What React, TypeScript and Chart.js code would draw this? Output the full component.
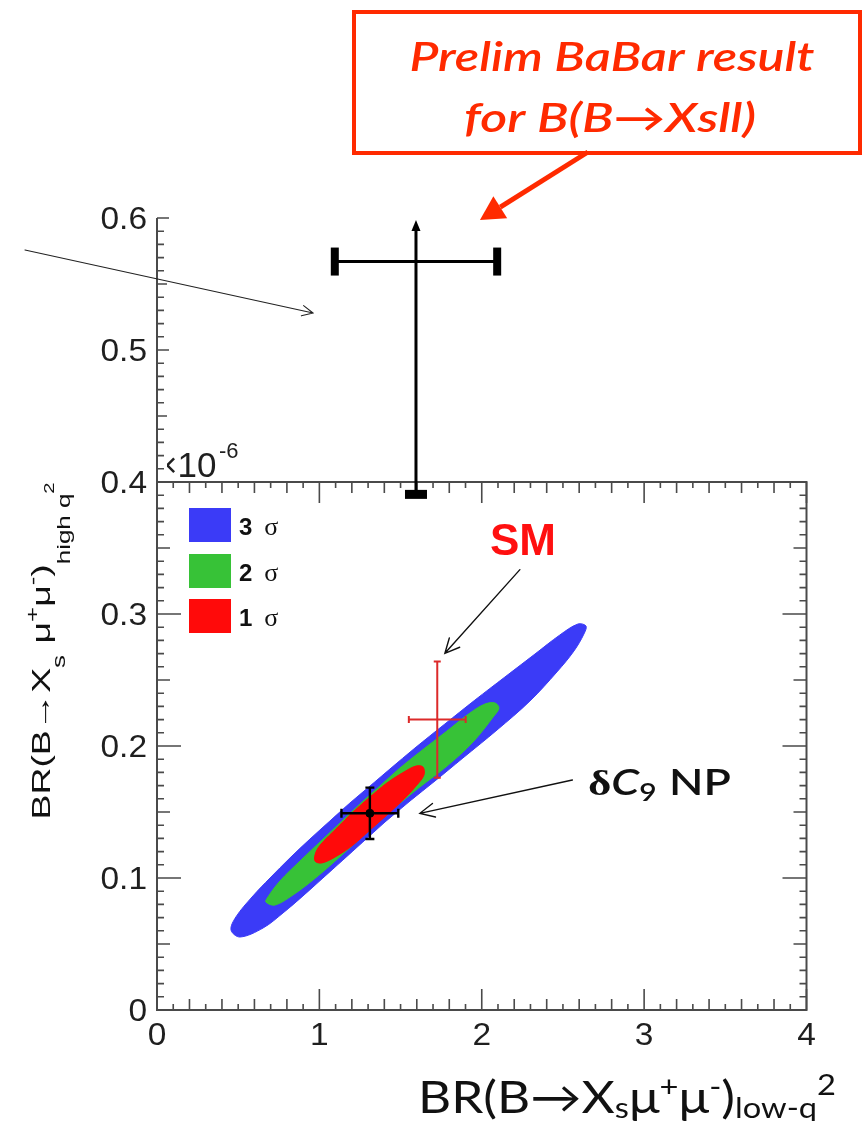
import React, { useEffect, useRef } from 'react';
import { Chart, registerables } from 'chart.js';

Chart.register(...registerables);

// Axis ticks (BR in units of 10^-6)
const X_TICKS = [0, 1, 2, 3, 4];
const X_TICK_LABELS = ['0', '1', '2', '3', '4'];
const Y_TICKS = [0, 0.1, 0.2, 0.3, 0.4, 0.5, 0.6];
const Y_TICK_LABELS = ['0', '0.1', '0.2', '0.3', '0.4', '0.5', '0.6'];
const FRAME_TOP = 0.4;

// Confidence-region outlines: BR low-q² (x) vs BR high-q² (y)
const SIGMA3_X = [1.404, 1.558, 1.712, 1.884, 2.094, 2.297, 2.463, 2.568, 2.629, 2.642, 2.592, 2.481, 2.328, 2.143, 1.958, 1.773, 1.589, 1.435, 1.312, 1.188, 1.065, 0.942, 0.819, 0.696, 0.591, 0.486, 0.456, 0.511, 0.653, 0.776, 0.899, 1.022, 1.145, 1.268, 1.404];
const SIGMA3_Y = [0.1424, 0.1583, 0.1735, 0.1909, 0.2121, 0.2341, 0.2561, 0.272, 0.2848, 0.2909, 0.2924, 0.2841, 0.2697, 0.2523, 0.2348, 0.2167, 0.1985, 0.1826, 0.1697, 0.1568, 0.1432, 0.1295, 0.1152, 0.1, 0.0864, 0.0705, 0.0606, 0.0553, 0.0621, 0.0735, 0.0864, 0.1, 0.1136, 0.1273, 0.1424];
const SIGMA2_X = [1.453, 1.33, 1.207, 1.084, 0.961, 0.837, 0.727, 0.671, 0.683, 0.757, 0.881, 1.004, 1.127, 1.25, 1.373, 1.496, 1.619, 1.786, 1.927, 2.02, 2.081, 2.106, 2.075, 1.946, 1.786, 1.619, 1.453];
const SIGMA2_Y = [0.1523, 0.1386, 0.125, 0.1114, 0.0985, 0.0871, 0.0795, 0.0818, 0.0856, 0.0977, 0.1129, 0.1273, 0.1417, 0.1561, 0.1697, 0.1833, 0.1955, 0.2114, 0.225, 0.2318, 0.2326, 0.2288, 0.2227, 0.203, 0.1848, 0.1689, 0.1523];
const SIGMA1_X = [1.312, 1.207, 1.108, 1.016, 0.973, 0.979, 1.016, 1.108, 1.207, 1.312, 1.416, 1.521, 1.595, 1.638, 1.644, 1.601, 1.521, 1.416, 1.312];
const SIGMA1_Y = [0.1364, 0.125, 0.1167, 0.1114, 0.1129, 0.1197, 0.1265, 0.1379, 0.15, 0.1614, 0.172, 0.1803, 0.1848, 0.1841, 0.178, 0.1705, 0.1598, 0.1477, 0.1364];
const CONTOUR_LABELS = ['3', '2', '1'];
const CONTOUR_COLORS = ['#3b3bf7', '#37c237', '#ff0a0a'];

// Measured / predicted points: SM, δC9 NP, BaBar
const POINT_NAMES = ['SM', 'δC9 NP', 'BaBar'];
const POINT_X = [1.726, 1.311, 1.595];
const POINT_Y = [0.22, 0.149, 0.567];
const POINT_XERR = [0.175, 0.175, 0.5];
const POINT_YERR_LO = [0.044, 0.0195, 0.176];
const POINT_YERR_HI = [0.044, 0.0195, 0.0315];
const POINT_COLORS = ['#dc2a2a', '#000000', '#000000'];

// Annotation arrows in data coordinates [x1, y1, x2, y2]
const SM_ARROW = [2.235, 0.3336, 1.773, 0.2702];
const NP_ARROW = [2.558, 0.1742, 1.619, 0.149];
const SIDE_ARROW = [-0.813, 0.5758, 0.961, 0.528];
const CALLOUT_ARROW = [2.654, 0.65, 1.989, 0.5985];

const SANS = '"Liberation Sans", Arial, sans-serif';
const HUMANIST = 'Lato, "Open Sans", sans-serif';
const SERIF = '"Liberation Serif", "DejaVu Serif", serif';

type Seg = { t: string; font: string; dy?: number; color?: string; gap?: number };

function drawRich(ctx: CanvasRenderingContext2D, segs: Seg[], x: number, y: number, align: 'left' | 'center', fitWidth?: number) {
  let total = 0;
  const widths = segs.map((s) => {
    ctx.font = s.font;
    const w = ctx.measureText(s.t).width;
    total += w + (s.gap || 0);
    return w;
  });
  const sx = fitWidth ? fitWidth / total : 1;
  const startX = align === 'center' ? x - (total * sx) / 2 : x;
  ctx.save();
  ctx.translate(startX, y);
  ctx.scale(sx, 1);
  ctx.textAlign = 'left';
  ctx.textBaseline = 'alphabetic';
  let cx = 0;
  segs.forEach((s, i) => {
    ctx.font = s.font;
    ctx.fillStyle = s.color || '#111';
    ctx.fillText(s.t, cx, s.dy || 0);
    cx += widths[i] + (s.gap || 0);
  });
  ctx.restore();
}

function openArrow(ctx: CanvasRenderingContext2D, x1: number, y1: number, x2: number, y2: number, color: string, width: number, head: number) {
  const ang = Math.atan2(y2 - y1, x2 - x1);
  ctx.save();
  ctx.strokeStyle = color;
  ctx.lineWidth = width;
  ctx.lineCap = 'round';
  ctx.beginPath();
  ctx.moveTo(x1, y1);
  ctx.lineTo(x2, y2);
  ctx.moveTo(x2 - head * Math.cos(ang - 0.45), y2 - head * Math.sin(ang - 0.45));
  ctx.lineTo(x2, y2);
  ctx.lineTo(x2 - head * Math.cos(ang + 0.45), y2 - head * Math.sin(ang + 0.45));
  ctx.stroke();
  ctx.restore();
}

function solidArrow(ctx: CanvasRenderingContext2D, x1: number, y1: number, x2: number, y2: number, color: string, width: number, head: number, half: number) {
  const ang = Math.atan2(y2 - y1, x2 - x1);
  const bx = x2 - head * Math.cos(ang);
  const by = y2 - head * Math.sin(ang);
  ctx.save();
  ctx.strokeStyle = color;
  ctx.fillStyle = color;
  ctx.lineWidth = width;
  ctx.beginPath();
  ctx.moveTo(x1, y1);
  ctx.lineTo(bx, by);
  ctx.stroke();
  ctx.beginPath();
  ctx.moveTo(x2, y2);
  ctx.lineTo(bx + half * Math.sin(ang), by - half * Math.cos(ang));
  ctx.lineTo(bx - half * Math.sin(ang), by + half * Math.cos(ang));
  ctx.closePath();
  ctx.fill();
  ctx.restore();
}

const overlay = {
  id: 'overlay',
  afterDatasetsDraw(chart: any) {
    const ctx: CanvasRenderingContext2D = chart.ctx;
    const xs = chart.scales.x;
    const ys = chart.scales.y;
    const px = (v: number) => xs.getPixelForValue(v);
    const py = (v: number) => ys.getPixelForValue(v);
    const x0 = px(X_TICKS[0]);
    const x1 = px(X_TICKS[X_TICKS.length - 1]);
    const y0 = py(Y_TICKS[0]);
    const yTop = py(FRAME_TOP);
    const yMax = py(Y_TICKS[Y_TICKS.length - 1]);

    ctx.save();
    // frame
    ctx.strokeStyle = '#4a4a4a';
    ctx.lineWidth = 2;
    ctx.strokeRect(x0, yTop, x1 - x0, y0 - yTop);
    ctx.beginPath();
    ctx.moveTo(x0, yTop);
    ctx.lineTo(x0, yMax);
    ctx.stroke();

    // x ticks (bottom and top of frame)
    ctx.lineWidth = 1.6;
    ctx.beginPath();
    for (let i = 0; i <= 40; i++) {
      const xx = px(i / 10);
      const len = i % 10 === 0 ? 21 : i % 2 === 0 ? 11 : 6;
      ctx.moveTo(xx, y0);
      ctx.lineTo(xx, y0 - len);
      ctx.moveTo(xx, yTop);
      ctx.lineTo(xx, yTop + len);
    }
    // y ticks, framed region
    for (let i = 0; i <= 40; i++) {
      const yy = py(i / 100);
      const len = i % 10 === 0 ? 24 : i % 5 === 0 ? 13 : 7;
      ctx.moveTo(x0, yy);
      ctx.lineTo(x0 + len, yy);
      ctx.moveTo(x1, yy);
      ctx.lineTo(x1 - len, yy);
    }
    // y ticks, extended left axis
    for (let i = 41; i <= 60; i++) {
      const yy = py(i / 100);
      const len = i % 10 === 0 ? 12 : i % 5 === 0 ? 10 : 7;
      ctx.moveTo(x0, yy);
      ctx.lineTo(x0 + len, yy);
    }
    ctx.stroke();

    // tick labels
    ctx.fillStyle = '#1f1f1f';
    ctx.font = `31px ${SANS}`;
    ctx.textBaseline = 'middle';
    Y_TICKS.forEach((v, i) => {
      ctx.save();
      ctx.translate(x0 - 10, py(v) + 2);
      ctx.scale(1.08, 1);
      ctx.textAlign = 'right';
      ctx.fillText(Y_TICK_LABELS[i], 0, 0);
      ctx.restore();
    });
    ctx.textBaseline = 'top';
    X_TICKS.forEach((v, i) => {
      ctx.save();
      ctx.translate(px(v), y0 + 11);
      ctx.scale(1.08, 1);
      ctx.textAlign = 'center';
      ctx.fillText(X_TICK_LABELS[i], 0, 0);
      ctx.restore();
    });

    // exponent label, partially covered by the axis
    ctx.save();
    ctx.beginPath();
    ctx.rect(x0 + 10, yTop - 50, 120, 49);
    ctx.clip();
    ctx.textAlign = 'left';
    ctx.textBaseline = 'alphabetic';
    ctx.font = `35px ${SANS}`;
    ctx.fillText('×10', x0, yTop - 5);
    ctx.font = `22px ${SANS}`;
    ctx.fillText('-6', x0 + 62, yTop - 24);
    ctx.restore();

    // legend
    const lx = x0 + 32;
    const ly = [508, 554, 599];
    CONTOUR_LABELS.forEach((lab, i) => {
      ctx.fillStyle = CONTOUR_COLORS[i];
      ctx.fillRect(lx, ly[i], 42, 34);
      drawRich(ctx, [
        { t: lab, font: `bold 24px ${SANS}`, gap: 12 },
        { t: 'σ', font: `26px ${SERIF}` },
      ], lx + 50, ly[i] + 27, 'left');
    });

    // error bars
    POINT_NAMES.forEach((name, i) => {
      const cx = px(POINT_X[i]);
      const cy = py(POINT_Y[i]);
      const xl = px(POINT_X[i] - POINT_XERR[i]);
      const xr = px(POINT_X[i] + POINT_XERR[i]);
      const yl = py(POINT_Y[i] - POINT_YERR_LO[i]);
      const yh = py(POINT_Y[i] + POINT_YERR_HI[i]);
      ctx.strokeStyle = POINT_COLORS[i];
      ctx.fillStyle = POINT_COLORS[i];
      if (name === 'BaBar') {
        ctx.lineWidth = 3;
        ctx.beginPath();
        ctx.moveTo(xl, cy);
        ctx.lineTo(xr, cy);
        ctx.moveTo(cx, yl);
        ctx.lineTo(cx, yh + 10);
        ctx.stroke();
        ctx.fillRect(xl - 4, cy - 14, 8, 28);
        ctx.fillRect(xr - 4, cy - 14, 8, 28);
        ctx.fillRect(cx - 11, yl - 4, 22, 9);
        ctx.beginPath();
        ctx.moveTo(cx, yh);
        ctx.lineTo(cx - 4.5, yh + 11);
        ctx.lineTo(cx + 4.5, yh + 11);
        ctx.closePath();
        ctx.fill();
      } else {
        const w = name === 'SM' ? 2 : 2.4;
        const cap = name === 'SM' ? 3.5 : 4.5;
        ctx.lineWidth = w;
        ctx.beginPath();
        ctx.moveTo(xl, cy);
        ctx.lineTo(xr, cy);
        ctx.moveTo(cx, yl);
        ctx.lineTo(cx, yh);
        ctx.moveTo(xl, cy - cap);
        ctx.lineTo(xl, cy + cap);
        ctx.moveTo(xr, cy - cap);
        ctx.lineTo(xr, cy + cap);
        ctx.moveTo(cx - cap, yl);
        ctx.lineTo(cx + cap, yl);
        ctx.moveTo(cx - cap, yh);
        ctx.lineTo(cx + cap, yh);
        ctx.stroke();
      }
    });

    // annotation arrows
    const arr = (a: number[]) => [px(a[0]), py(a[1]), px(a[2]), py(a[3])] as const;
    {
      const [a, b, c, d] = arr(SM_ARROW);
      openArrow(ctx, a, b, c, d, '#111', 1.4, 16);
    }
    {
      const [a, b, c, d] = arr(NP_ARROW);
      openArrow(ctx, a, b, c, d, '#111', 1.4, 16);
    }
    {
      const [a, b, c, d] = arr(SIDE_ARROW);
      openArrow(ctx, a, b, c, d, '#222', 1.1, 12);
    }
    {
      const [a, b, c, d] = arr(CALLOUT_ARROW);
      solidArrow(ctx, a, b, c, d, '#ff2a00', 5, 24, 13);
    }

    // SM and NP labels
    ctx.fillStyle = '#ff1010';
    ctx.font = `bold 44px ${SANS}`;
    ctx.textAlign = 'center';
    ctx.textBaseline = 'alphabetic';
    ctx.fillText('SM', 523, 555);
    drawRich(ctx, [
      { t: 'δ', font: `bold 36px ${SERIF}` },
      { t: 'C', font: `italic 600 36px ${HUMANIST}` },
      { t: '9', font: `600 24px ${HUMANIST}`, dy: 6, gap: 10 },
      { t: 'NP', font: `600 36px ${HUMANIST}` },
    ], 588, 795, 'left', 143);

    // callout box
    ctx.strokeStyle = '#ff2a00';
    ctx.lineWidth = 4;
    ctx.strokeRect(354, 12, 506, 141);
    drawRich(ctx, [{ t: 'Prelim BaBar result', font: `italic 600 40px ${HUMANIST}`, color: '#ff2a00' }], 612, 71, 'center', 405);
    drawRich(ctx, [{ t: 'for B(B→Xsll)', font: `italic 600 40px ${HUMANIST}`, color: '#ff2a00' }], 610, 132, 'center', 292);

    // x-axis title
    drawRich(ctx, [
      { t: 'BR(B→X', font: `44px ${HUMANIST}` },
      { t: 's', font: `28px ${HUMANIST}`, dy: 5 },
      { t: 'μ', font: `44px ${HUMANIST}` },
      { t: '+', font: `28px ${HUMANIST}`, dy: -16 },
      { t: 'μ', font: `44px ${HUMANIST}` },
      { t: '-', font: `28px ${HUMANIST}`, dy: -16 },
      { t: ')', font: `44px ${HUMANIST}` },
      { t: 'low-q', font: `28px ${HUMANIST}`, dy: 5 },
      { t: '2', font: `28px ${HUMANIST}`, dy: -18 },
    ], 418, 1113, 'left', 418);

    // y-axis title
    ctx.save();
    ctx.translate(50, 651);
    ctx.rotate(-Math.PI / 2);
    drawRich(ctx, [
      { t: 'BR(B', font: `26px ${SANS}` },
      { t: '→', font: `26px ${SANS}` },
      { t: 'X', font: `26px ${SANS}` },
      { t: 's', font: `18px ${SANS}`, dy: 15, gap: 8 },
      { t: 'μ', font: `26px ${SANS}` },
      { t: '+', font: `18px ${SANS}`, dy: -11 },
      { t: 'μ', font: `26px ${SANS}` },
      { t: '-', font: `18px ${SANS}`, dy: -11 },
      { t: ')', font: `26px ${SANS}` },
      { t: 'high q', font: `18px ${SANS}`, dy: 20 },
      { t: '2', font: `14px ${SANS}`, dy: 4 },
    ], 0, 0, 'center', 337);
    ctx.restore();

    ctx.restore();
  },
};

const zip = (xs: number[], ys: number[]) => xs.map((x, i) => ({ x, y: ys[i] }));

export default function App() {
  const ref = useRef<HTMLCanvasElement>(null);
  useEffect(() => {
    const contours = [
      { x: SIGMA3_X, y: SIGMA3_Y },
      { x: SIGMA2_X, y: SIGMA2_Y },
      { x: SIGMA1_X, y: SIGMA1_Y },
    ];
    const npIndex = POINT_NAMES.indexOf('δC9 NP');
    const chart = new Chart(ref.current as HTMLCanvasElement, {
      type: 'scatter',
      data: {
        datasets: [
          ...contours.map((c, i) => ({
            label: `${CONTOUR_LABELS[i]} σ`,
            data: zip(c.x, c.y),
            showLine: true,
            fill: 'shape',
            backgroundColor: CONTOUR_COLORS[i],
            borderColor: CONTOUR_COLORS[i],
            borderWidth: 1,
            pointRadius: 0,
            tension: 0.35,
            order: 10 - i,
          })),
          {
            label: POINT_NAMES[npIndex],
            data: [{ x: POINT_X[npIndex], y: POINT_Y[npIndex] }],
            pointRadius: 4,
            pointBackgroundColor: '#000',
            pointBorderColor: '#000',
            order: 0,
          },
        ] as any,
      },
      options: {
        responsive: false,
        animation: false,
        devicePixelRatio: 1,
        events: [],
        layout: { padding: { left: 157, right: 58.5, top: 218, bottom: 111 } },
        scales: {
          x: { type: 'linear', min: 0, max: 4, display: false },
          y: { type: 'linear', min: 0, max: 0.6, display: false },
        },
        plugins: { legend: { display: false }, tooltip: { enabled: false } },
      },
      plugins: [overlay],
    });
    return () => chart.destroy();
  }, []);
  return (
    <div style={{ position: 'fixed', left: 0, top: 0, width: 865, height: 1121, background: '#fff' }}>
      <canvas ref={ref} width={865} height={1121} style={{ display: 'block', width: 865, height: 1121 }} />
    </div>
  );
}
